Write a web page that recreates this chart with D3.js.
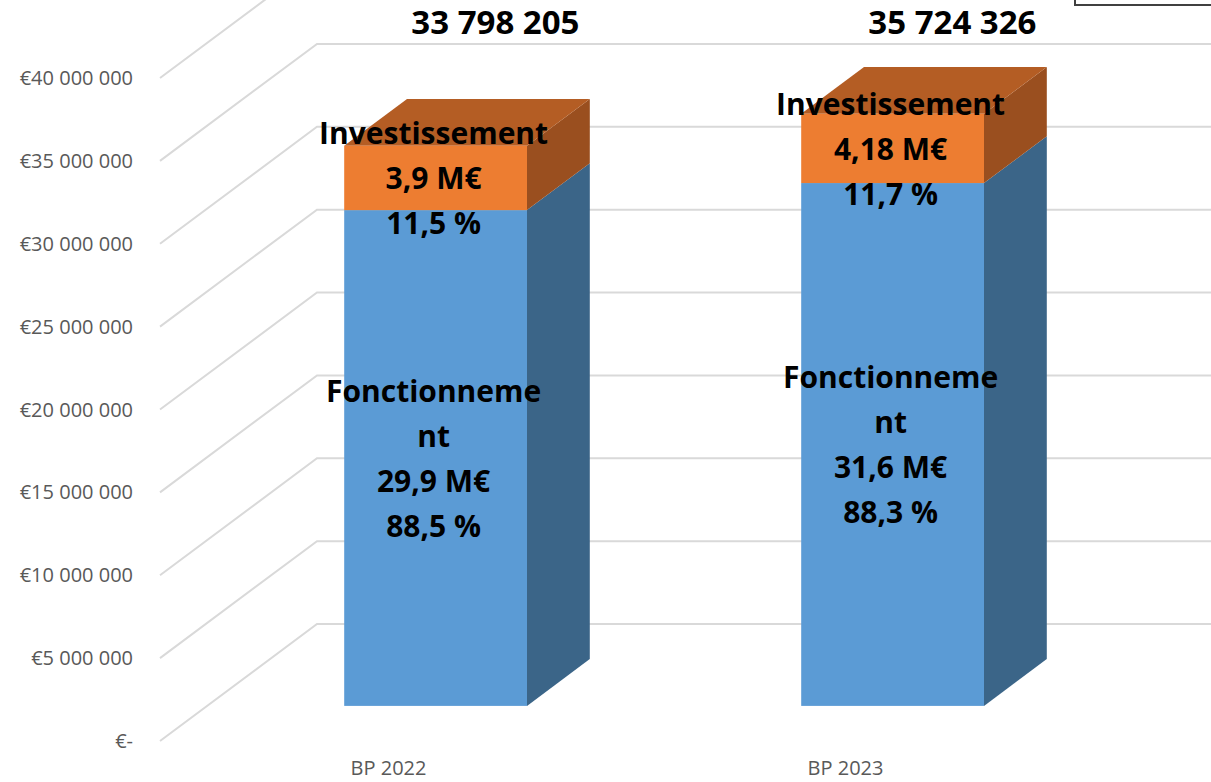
<!DOCTYPE html>
<html>
<head>
<meta charset="utf-8">
<script src="https://cdn.jsdelivr.net/npm/d3@7"></script>
<style>
  body { margin: 0; background: #fff; }
  svg { display: block; }
  .tick-label { font-family: "Open Sans", sans-serif; font-size: 20px; fill: #595959; }
  .data-label { font-family: "Open Sans", sans-serif; font-weight: bold; font-size: 30px; fill: #000; }
  .total-label { font-family: "Open Sans", sans-serif; font-weight: bold; font-size: 33px; fill: #000; }
</style>
</head>
<body>
<div id="chart"></div>
<script>
const width = 1211;
const height = 782;

// données
const categories = ["BP 2022", "BP 2023"];
const fonctionnement = [29911411, 31544580];
const investissement = [3886794, 4179746];
const totals = ["33 798 205", "35 724 326"];
const fonctLabels = [["Fonctionneme", "nt", "29,9 M€", "88,5 %"], ["Fonctionneme", "nt", "31,6 M€", "88,3 %"]];
const investLabels = [["Investissement", "3,9 M€", "11,5 %"], ["Investissement", "4,18 M€", "11,7 %"]];
const yTicks = [0, 5e6, 10e6, 15e6, 20e6, 25e6, 30e6, 35e6, 40e6];
const yTickLabels = ["€-", "€5 000 000", "€10 000 000", "€15 000 000", "€20 000 000", "€25 000 000", "€30 000 000", "€35 000 000", "€40 000 000"];

// géométrie 3D
const wallDx = 157, wallDy = -117;   // profondeur du plancher
const frontFrac = 0.3, depthFrac = 0.4; // position des barres dans la profondeur

const svg = d3.select("#chart").append("svg").attr("width", width).attr("height", height);

const x = d3.scaleBand().domain(categories).range([160, 1074]).paddingInner(0.6).paddingOuter(0.3);
const y = d3.scaleLinear().domain([0, 40e6]).range([741, 78]);

// grille : murs gauche et du fond
const grid = svg.append("g");
yTicks.forEach((t) => {
  const y0 = y(t);
  grid.append("polyline")
    .attr("points", `160,${y0} ${160 + wallDx},${y0 + wallDy} ${width + 20},${y0 + wallDy}`)
    .attr("fill", "none").attr("stroke", "#d9d9d9").attr("stroke-width", 2);
});

// étiquettes de l'axe Y
svg.append("g").selectAll("text").data(yTicks).join("text")
  .attr("class", "tick-label")
  .attr("x", 133).attr("y", (d) => y(d)).attr("dy", "0.35em")
  .attr("text-anchor", "end")
  .text((d, i) => yTickLabels[i]);

// étiquettes des catégories
svg.append("g").selectAll("text").data(categories).join("text")
  .attr("class", "tick-label")
  .attr("x", (d) => x(d) + x.bandwidth() / 2).attr("y", 768).attr("dy", "0.35em")
  .attr("text-anchor", "middle")
  .text((d) => d);

// séries empilées
const series = [
  { name: "Fonctionnement", values: fonctionnement, front: "#5b9bd5", side: "#3b6588", top: "#4a7fb0", labels: fonctLabels },
  { name: "Investissement", values: investissement, front: "#ed7d31", side: "#9a4f1f", top: "#b45d24", labels: investLabels }
];

const fdx = wallDx * frontFrac, fdy = wallDy * frontFrac;
const ddx = wallDx * depthFrac, ddy = wallDy * depthFrac;

const bars = svg.append("g");
categories.forEach((c, i) => {
  let base = 0;
  const x0 = x(c) + fdx, x1 = x0 + x.bandwidth();
  series.forEach((s, si) => {
    const v0 = base, v1 = base + s.values[i];
    const yb = y(v0) + fdy, yt = y(v1) + fdy;
    // côté droit
    bars.append("polygon")
      .attr("points", `${x1},${yb} ${x1 + ddx},${yb + ddy} ${x1 + ddx},${yt + ddy} ${x1},${yt}`)
      .attr("fill", s.side);
    // dessus (seulement pour le dernier segment)
    if (si === series.length - 1) {
      bars.append("polygon")
        .attr("points", `${x0},${yt} ${x1},${yt} ${x1 + ddx},${yt + ddy} ${x0 + ddx},${yt + ddy}`)
        .attr("fill", s.top);
    }
    // face avant
    bars.append("rect")
      .attr("x", x0).attr("y", yt)
      .attr("width", x.bandwidth()).attr("height", yb - yt)
      .attr("fill", s.front);
    base = v1;
  });
});

// étiquettes de données
const lineH = 45;
const labels = svg.append("g");
categories.forEach((c, i) => {
  let base = 0;
  const cx = x(c) + fdx + x.bandwidth() / 2 - 2;
  series.forEach((s) => {
    const mid = (y(base) + y(base + s.values[i])) / 2 + fdy;
    const lines = s.labels[i];
    const t = labels.append("text").attr("class", "data-label").attr("text-anchor", "middle");
    lines.forEach((l, li) => {
      t.append("tspan").attr("x", cx)
        .attr("y", mid + (li - (lines.length - 1) / 2) * lineH + 1)
        .attr("dy", "0.35em").text(l);
    });
    base += s.values[i];
  });
  // total au-dessus
  labels.append("text").attr("class", "total-label")
    .attr("text-anchor", "middle")
    .attr("x", x(c) + fdx + x.bandwidth() / 2 + ddx - 3).attr("y", 22).attr("dy", "0.35em")
    .text(totals[i]);
});

// cadre de légende (partiellement visible)
svg.append("rect").attr("x", 1075).attr("y", -20).attr("width", 160).attr("height", 25)
  .attr("fill", "#fff").attr("stroke", "#404040").attr("stroke-width", 2);
</script>
</body>
</html>
